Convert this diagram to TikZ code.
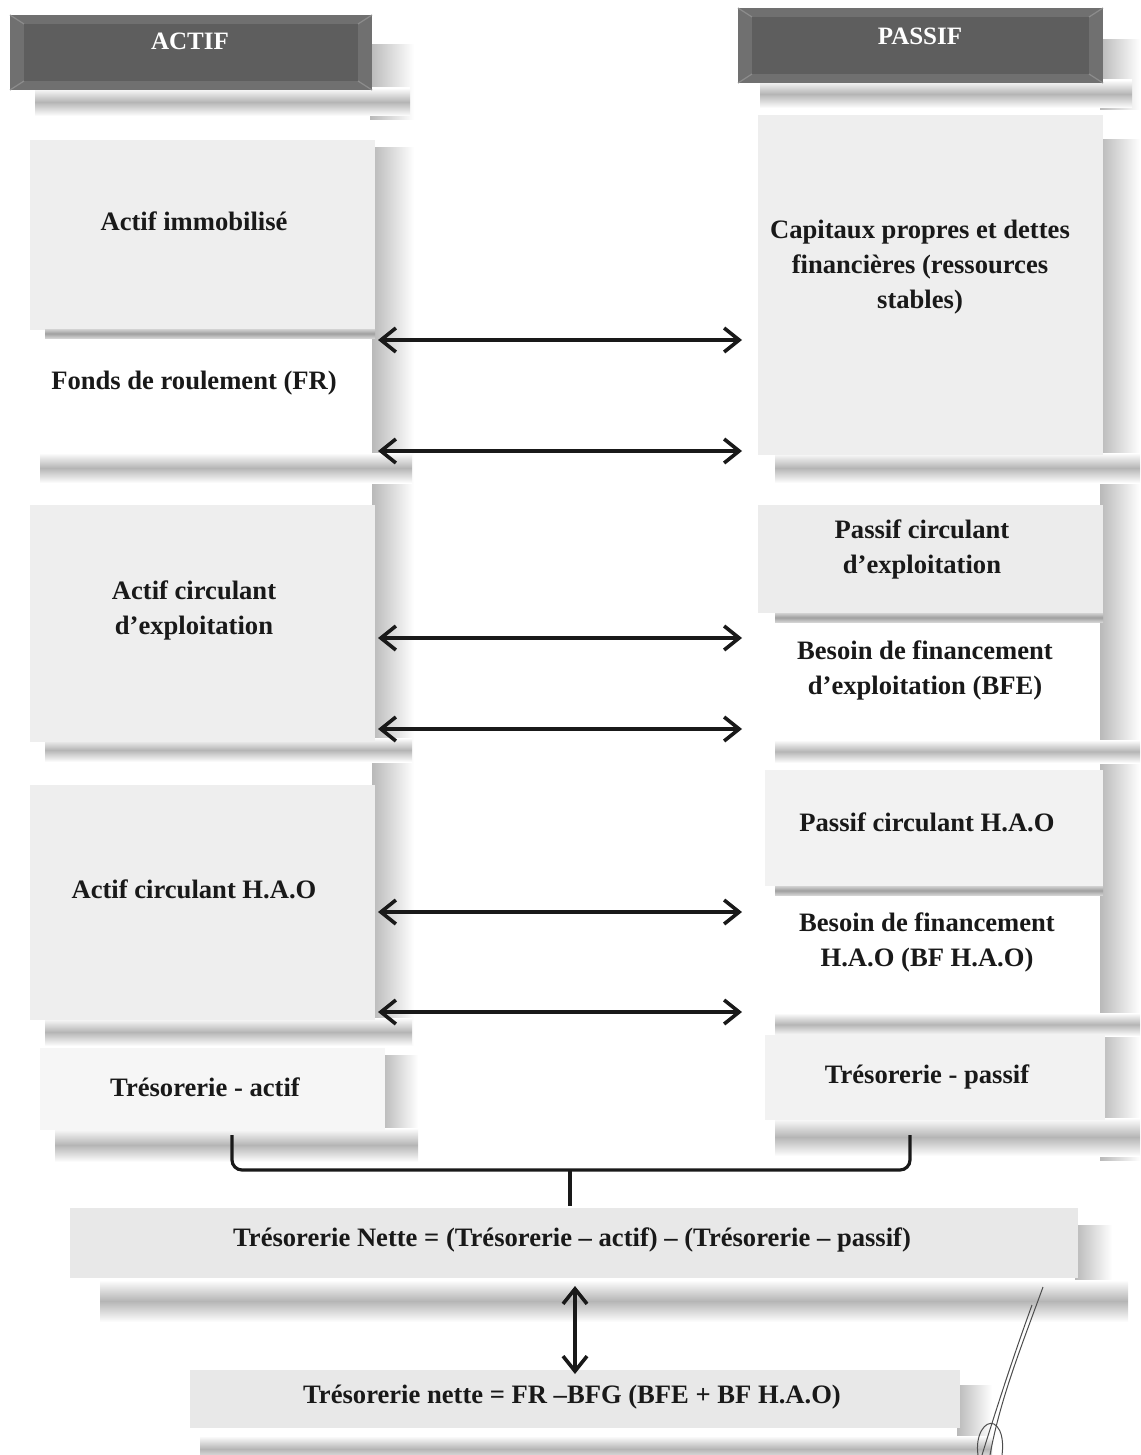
\documentclass[tikz,border=0pt]{standalone}
\usepackage{fontspec}
\setmainfont{Liberation Serif}
\usetikzlibrary{arrows.meta}
\begin{document}
\begin{tikzpicture}[x=0.5pt,y=-0.5pt,
  lbl/.style={font=\fontsize{13.3}{17.5}\selectfont\bfseries, align=center, text=black!90, inner sep=0pt},
  hdr/.style={font=\fontsize{12.5}{14}\selectfont\bfseries, text=white, inner sep=0pt},
  dbl/.style={{Straight Barb[length=7.5pt,width=12pt]}-{Straight Barb[length=7.5pt,width=12pt]}, line width=1.8pt, draw=black!90},
  hsh/.style={top color=white,bottom color=white,middle color=gray!58},
  sep/.style={top color=gray!35,bottom color=gray!35,middle color=gray!75},
  vsh/.style={left color=gray!55,right color=white},
  lbox/.style={fill=gray!13},
  brace/.style={line width=1.6pt, draw=black!90, rounded corners=5pt},
  sig/.style={line width=0.5pt, draw=black!70}]
\useasboundingbox (0,0) rectangle (1140,1455);

% ---------- shadows ----------
\shade[vsh] (370,45) rectangle (414,120);
\shade[hsh] (35,88) rectangle (410,116);
\shade[vsh] (372,148) rectangle (414,1045);
\shade[hsh] (40,453) rectangle (412,483);
\shade[hsh] (45,738) rectangle (412,762);
\shade[hsh] (45,1018) rectangle (412,1046);
\shade[vsh] (382,1055) rectangle (418,1160);
\shade[hsh] (55,1128) rectangle (418,1162);

\shade[vsh] (1100,40) rectangle (1140,110);
\shade[hsh] (760,80) rectangle (1132,108);
\shade[vsh] (1100,140) rectangle (1140,1160);
\shade[hsh] (775,453) rectangle (1140,483);
\shade[hsh] (775,740) rectangle (1140,763);
\shade[hsh] (775,1013) rectangle (1140,1036);
\shade[hsh] (775,1118) rectangle (1140,1156);

\shade[vsh] (1075,1225) rectangle (1112,1300);
\shade[hsh] (100,1280) rectangle (1128,1322);
\shade[vsh] (957,1385) rectangle (992,1440);
\shade[hsh] (200,1436) rectangle (992,1462);

% ---------- boxes ----------
\fill[lbox] (30,140) rectangle (375,330);
\shade[sep] (45,329) rectangle (375,338);
\fill[lbox] (30,505) rectangle (375,742);
\fill[lbox] (30,785) rectangle (375,1020);
\fill[gray!7] (40,1048) rectangle (385,1130);

\fill[lbox] (758,115) rectangle (1103,455);
\fill[gray!15] (758,505) rectangle (1103,613);
\shade[sep] (775,613) rectangle (1103,622);
\fill[gray!10] (765,770) rectangle (1103,886);
\shade[sep] (775,886) rectangle (1103,895);
\fill[gray!10] (765,1035) rectangle (1105,1120);

\fill[gray!18] (70,1208) rectangle (1078,1278);
\fill[gray!18] (190,1370) rectangle (960,1428);

% ---------- headers ----------
\fill[black!56] (10,15) rectangle (372,90);
\fill[black!63] (24,24) rectangle (358,81);
\draw[black!45, line width=0.6pt] (10,15)--(24,24) (372,15)--(358,24) (10,90)--(24,81) (372,90)--(358,81);
\fill[black!56] (738,8) rectangle (1103,83);
\fill[black!63] (752,17) rectangle (1089,74);
\draw[black!45, line width=0.6pt] (738,8)--(752,17) (1103,8)--(1089,17) (738,83)--(752,74) (1103,83)--(1089,74);
\node[hdr] (hactif) at (190,41) {ACTIF};
\node[hdr] (hpassif) at (920,36) {PASSIF};

% ---------- labels ----------
\node[lbl] (ai) at (194,221) {Actif immobilisé};
\node[lbl] (fr) at (194,383) {Fonds de roulement (FR)};
\node[lbl] (ace) at (194,610) {Actif circulant\\d’exploitation};
\node[lbl] (ach) at (194,889) {Actif circulant H.A.O};
\node[lbl] (ta) at (205,1087) {Trésorerie - actif};

\node[lbl] (cp) at (920,267) {Capitaux propres et dettes\\financières (ressources\\stables)};
\node[lbl] (pce) at (922,549) {Passif circulant\\d’exploitation};
\node[lbl] (bfe) at (925,670) {Besoin de financement\\d’exploitation (BFE)};
\node[lbl] (pch) at (927,822) {Passif circulant H.A.O};
\node[lbl] (bfh) at (927,942) {Besoin de financement\\H.A.O (BF H.A.O)};
\node[lbl] (tp) at (927,1077) {Trésorerie - passif};

\node[lbl] (tn) at (572,1240) {Trésorerie Nette = (Trésorerie – actif) – (Trésorerie – passif)};
\node[lbl] (tn2) at (572,1397) {Trésorerie nette = FR –BFG (BFE + BF H.A.O)};

% ---------- arrows ----------
\foreach \i/\y in {1/340,2/451,3/638,4/729,5/912,6/1012}{
  \coordinate (l\i) at (378,\y);
  \coordinate (r\i) at (742,\y);
  \draw[dbl] (l\i) -- (r\i);
}

% ---------- brace ----------
\coordinate (bra) at (232,1135);
\coordinate (brp) at (910,1135);
\coordinate (brm) at (570,1170);
\coordinate (tntop) at (570,1206);
\draw[brace] (bra) -- (232,1170) -- (910,1170) -- (brp);
\draw[line width=1.6pt, draw=black!90] (brm) -- (tntop);

\coordinate (va) at (575,1286);
\coordinate (vb) at (575,1374);
\draw[dbl] (va) -- (vb);

% ---------- pen mark ----------
\draw[sig] (1043,1287) .. controls (1020,1350) and (1000,1400) .. (990,1455);
\draw[sig] (1032,1305) .. controls (1012,1360) and (996,1410) .. (982,1455);
\draw[sig] (978,1455) .. controls (975,1435) and (985,1420) .. (994,1424) .. controls (1004,1430) and (1003,1448) .. (1002,1455);
\end{tikzpicture}
\end{document}
